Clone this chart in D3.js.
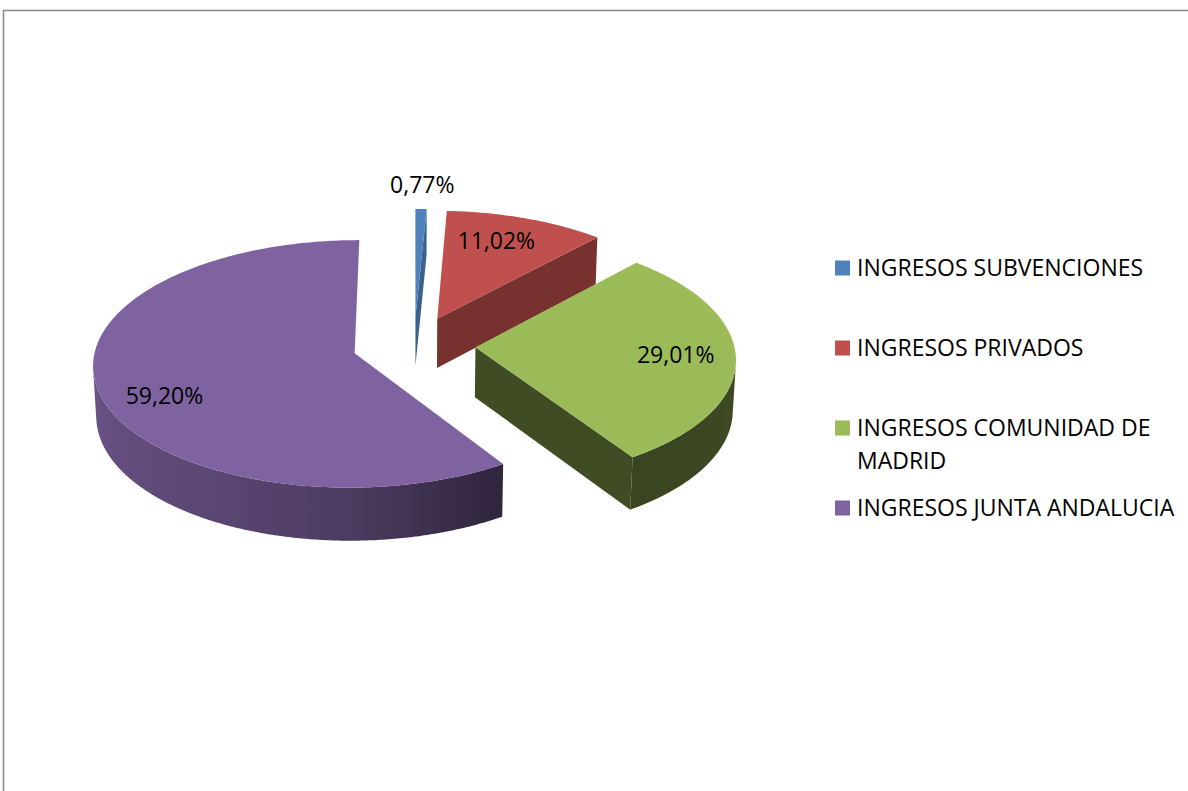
<!DOCTYPE html>
<html>
<head>
<meta charset="utf-8">
<script src="https://cdn.jsdelivr.net/npm/d3@7"></script>
<style>
  body { margin: 0; background: #fff; }
  svg text { font-family: "Open Sans", "Noto Sans", sans-serif; fill: #000; }
</style>
</head>
<body>
<div id="chart"></div>
<script>
// data
var categories = ["INGRESOS SUBVENCIONES", "INGRESOS PRIVADOS", "INGRESOS COMUNIDAD DE MADRID", "INGRESOS JUNTA ANDALUCIA"];
var values = [0.77, 11.02, 29.01, 59.20];
var colors = ["#4F81BD", "#C0504D", "#9BBB59", "#7F63A1"];
// how dark the cut (radial) face of each slice is
var cutShade = [0.75, 0.62, 0.41, 0.4];
// where the % label sits: fraction of the radius, and a small turn (degrees)
var labelRadius = [1.25, 0.75, 0.77, 0.78];
var labelTurn = [0, -3, 0, -9];

var width = 1188, height = 791;

var svg = d3.select("#chart").append("svg")
  .attr("width", width)
  .attr("height", height);

var defs = svg.append("defs");

// frame, runs off the right and bottom edge
svg.append("rect")
  .attr("x", 3.5).attr("y", 10.5)
  .attr("width", 1300).attr("height", 900)
  .attr("fill", "none")
  .attr("stroke", "#878787")
  .attr("stroke-width", 1.5);

// 3d projection of the pie
var cx = 414, cy = 345;
var F = 2690, D = 10.4;
var tilt = 28 * Math.PI / 180;
var thick = 0.22;     // depth of the pie, in radius units
var explode = 0.238;  // how far each slice is pulled out
var cosT = Math.cos(tilt), sinT = Math.sin(tilt);
var cam = [0, D * sinT, -D * cosT];

function proj(X, Y, Z) {
  var v = Y * cosT + Z * sinT;
  var w = Z * cosT - Y * sinT;
  var s = F / (D + w);
  return { x: cx + X * s, y: cy - v * s, w: w };
}

var fmt = d3.formatLocale({ decimal: ",", thousands: ".", grouping: [3], currency: ["", "€"] }).format(".2f");

var pie = d3.pie().sort(null).value(function(d) { return d; });
var arcs = pie(values);

var line = d3.line().x(function(p) { return p.x; }).y(function(p) { return p.y; });

// shading of the round side, by angle (degrees)
var sideShade = d3.scaleLinear()
  .domain([0, 90, 147, 180, 205, 270, 360])
  .range([0.4, 0.4, 0.37, 0.6, 0.7, 0.86, 0.86])
  .clamp(true);

function darker(c, f) {
  var r = d3.rgb(c);
  return d3.rgb(r.r * f, r.g * f, r.b * f).formatHex();
}

var faces = [];
var tops = [];

arcs.forEach(function(a, i) {
  var a0 = a.startAngle, a1 = a.endAngle, mid = (a0 + a1) / 2;
  var ox = explode * Math.sin(mid), oz = explode * Math.cos(mid);
  function pt(t, r, Y) { return proj(ox + r * Math.sin(t), Y, oz + r * Math.cos(t)); }
  var n = Math.max(3, Math.ceil((a1 - a0) / 0.01));
  var ts = d3.range(n + 1).map(function(k) { return a0 + (a1 - a0) * k / n; });

  // top face
  var top = [pt(0, 0, 0)].concat(ts.map(function(t) { return pt(t, 1, 0); }));
  tops.push({ i: i, pts: top });

  // round side: keep only the parts that face the camera
  function seesSide(t) {
    var P = [ox + Math.sin(t), -thick / 2, oz + Math.cos(t)];
    return Math.sin(t) * (cam[0] - P[0]) + Math.cos(t) * (cam[2] - P[2]) > 0;
  }
  var run = [];
  function flush() {
    if (run.length > 1) {
      var upper = run.map(function(t) { return pt(t, 1, 0); });
      var lower = run.map(function(t) { return pt(t, 1, -thick); }).reverse();
      var pts = upper.concat(lower);
      faces.push({ kind: "side", i: i, pts: pts, ts: run.slice(), pt: pt,
        depth: d3.mean(pts, function(p) { return p.w; }) });
    }
    run = [];
  }
  ts.forEach(function(t) { if (seesSide(t)) run.push(t); else flush(); });
  flush();

  // the two cut faces
  [[a0, -1], [a1, 1]].forEach(function(e) {
    var t = e[0], sg = e[1];
    var nx = sg * Math.cos(t), nz = -sg * Math.sin(t);
    var P = [ox + 0.5 * Math.sin(t), -thick / 2, oz + 0.5 * Math.cos(t)];
    if (nx * (cam[0] - P[0]) + nz * (cam[2] - P[2]) <= 0) return;
    var pts = [pt(t, 0, 0), pt(t, 1, 0), pt(t, 1, -thick), pt(t, 0, -thick)];
    var ext = d3.extent(pts, function(p) { return p.x; });
    if (ext[1] - ext[0] < 8) return;   // seen edge-on, leave it out
    faces.push({ kind: "cut", i: i, pts: pts,
      depth: d3.mean(pts, function(p) { return p.w; }) });
  });
});

faces.sort(function(p, q) { return q.depth - p.depth; });

var pieG = svg.append("g");

faces.forEach(function(f, k) {
  var fill;
  if (f.kind === "cut") {
    fill = darker(colors[f.i], cutShade[f.i]);
  } else {
    var xs = f.ts.map(function(t) { return f.pt(t, 1, 0).x; });
    var x1 = xs[0], x2 = xs[xs.length - 1];
    var id = "side" + k;
    var grad = defs.append("linearGradient").attr("id", id)
      .attr("gradientUnits", "userSpaceOnUse")
      .attr("x1", x1).attr("x2", x2).attr("y1", 0).attr("y2", 0);
    var stops = f.ts.filter(function(t, j) { return j % 4 === 0; }).map(function(t) {
      var x = f.pt(t, 1, 0).x;
      var deg = (t * 180 / Math.PI) % 360;
      return { o: x2 === x1 ? 0 : Math.max(0, Math.min(1, (x - x1) / (x2 - x1))), c: darker(colors[f.i], sideShade(deg)) };
    });
    stops.sort(function(p, q) { return p.o - q.o; });
    grad.selectAll("stop").data(stops).enter().append("stop")
      .attr("offset", function(s) { return s.o; })
      .attr("stop-color", function(s) { return s.c; });
    fill = "url(#" + id + ")";
  }
  pieG.append("path")
    .attr("d", line(f.pts) + "Z")
    .attr("fill", fill);
});

pieG.selectAll(".top").data(tops).enter().append("path")
  .attr("class", "top")
  .attr("d", function(d) { return line(d.pts) + "Z"; })
  .attr("fill", function(d) { return colors[d.i]; });

// percentage labels
function labelPos(a, i) {
  var mid = (a.startAngle + a.endAngle) / 2;
  var ox = explode * Math.sin(mid), oz = explode * Math.cos(mid);
  var t = mid + labelTurn[i] * Math.PI / 180, r = labelRadius[i];
  return proj(ox + r * Math.sin(t), 0, oz + r * Math.cos(t));
}

svg.selectAll(".lbl").data(arcs).enter().append("text")
  .attr("class", "lbl")
  .attr("x", function(a, i) { return labelPos(a, i).x; })
  .attr("y", function(a, i) { return labelPos(a, i).y; })
  .attr("text-anchor", "middle")
  .attr("dy", "0.35em")
  .style("font-size", "23px")
  .text(function(a) { return fmt(a.data) + "%"; });

// legend
var legend = svg.append("g").attr("transform", "translate(835,0)");
var item = legend.selectAll(".item").data(categories).enter().append("g")
  .attr("class", "item")
  .attr("transform", function(d, i) { return "translate(0," + (268 + i * 80) + ")"; });

item.append("rect")
  .attr("x", 0).attr("y", -7.5)
  .attr("width", 15).attr("height", 15)
  .attr("fill", function(d, i) { return colors[i]; });

item.each(function(d) {
  var t = d3.select(this).append("text")
    .attr("x", 22).attr("y", 0)
    .style("font-size", "23px");
  var words = d.split(" "), cur = [];
  var ts = t.append("tspan").attr("x", 22).attr("dy", "0.35em");
  words.forEach(function(wd) {
    cur.push(wd);
    ts.text(cur.join(" "));
    if (ts.node().getComputedTextLength() > 330 && cur.length > 1) {
      cur.pop();
      ts.text(cur.join(" "));
      cur = [wd];
      ts = t.append("tspan").attr("x", 22).attr("dy", "33px").text(wd);
    }
  });
});
</script>
</body>
</html>
